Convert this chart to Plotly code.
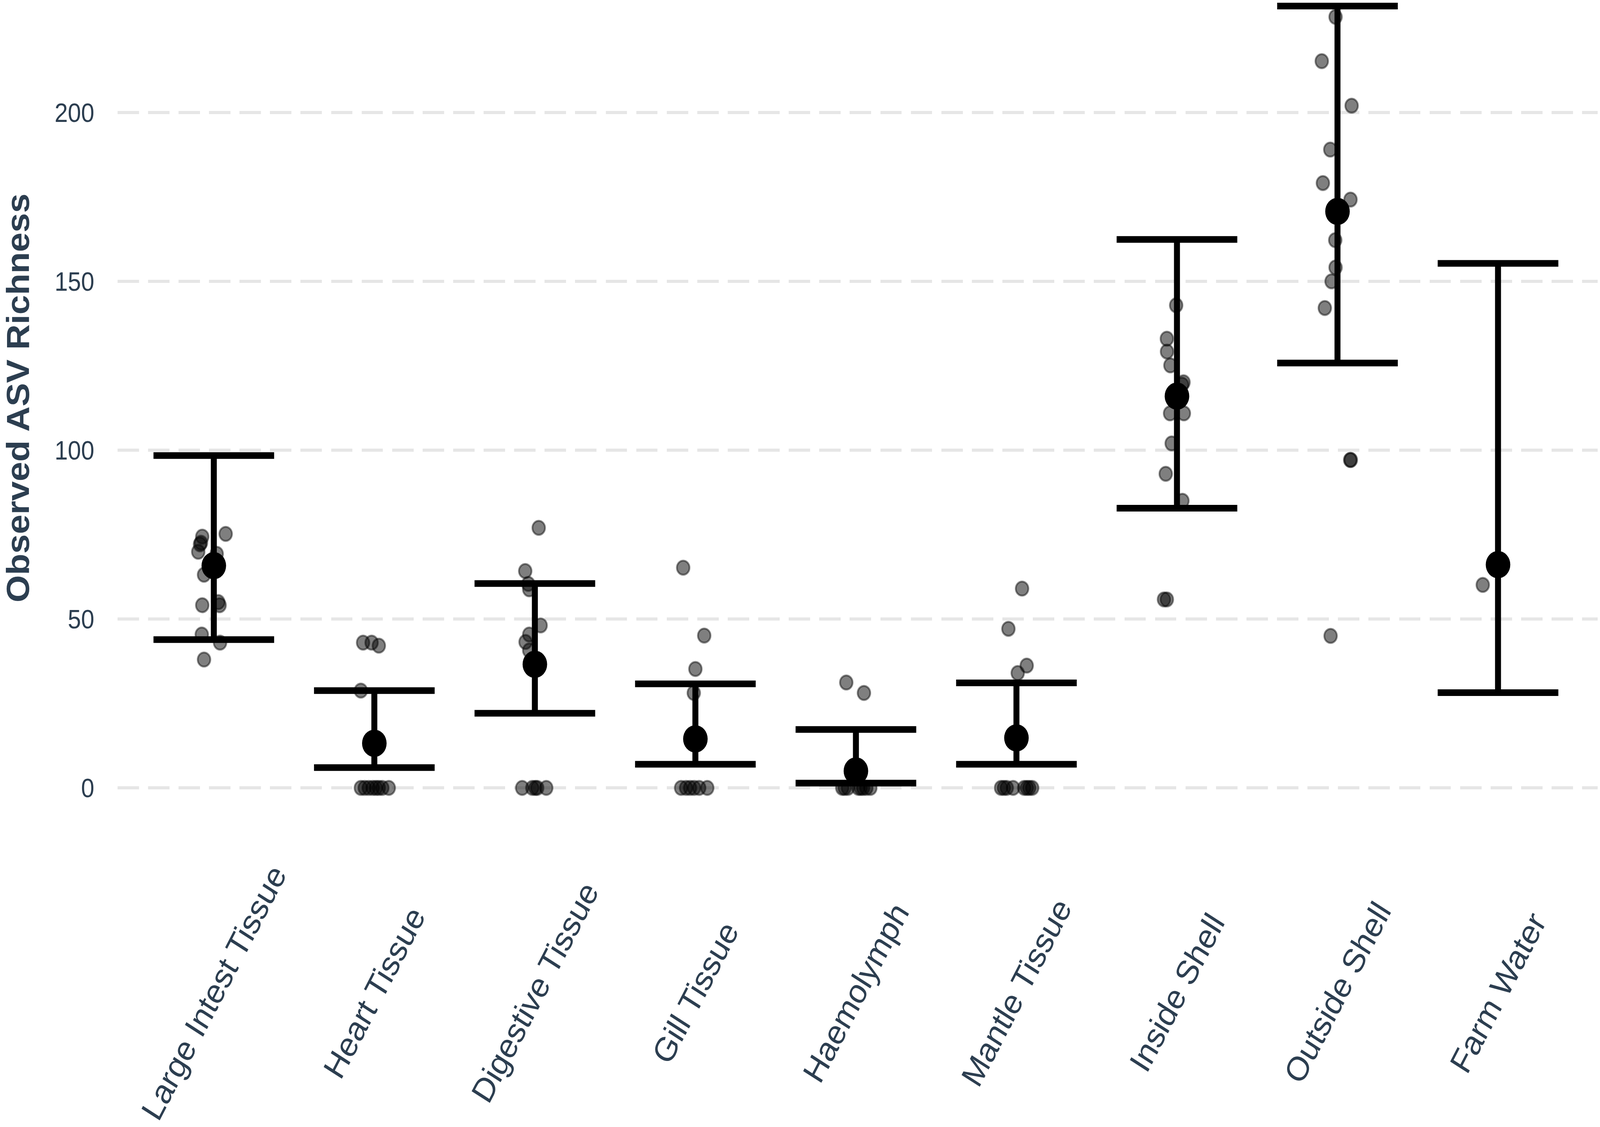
import plotly.graph_objects as go

# sample types, in plotting order
categories = ["Large Intest Tissue", "Heart Tissue", "Digestive Tissue", "Gill Tissue",
              "Haemolymph", "Mantle Tissue", "Inside Shell", "Outside Shell", "Farm Water"]

# summary per sample type (mean and interval ends)
means = [65.8, 13.2, 36.6, 14.5, 5.0, 14.8, 116.0, 170.7, 66.1]
upper = [98.4, 28.8, 60.5, 30.8, 17.3, 31.1, 162.4, 231.5, 155.3]
lower = [43.9, 6.0, 22.1, 7.0, 1.4, 7.0, 82.8, 125.8, 28.2]

# individual samples: group index, richness, jitter (category units)
pt_group = ([0] * 14 + [1] * 12 + [2] * 13 + [3] * 10 + [4] * 10 + [5] * 12
            + [6] * 13 + [7] * 13 + [8] * 1)
pt_value = [74.4, 72.1, 72.6, 69.9, 75.2, 69.3, 63.1, 54.1, 55.0, 54.1, 45.4, 43.0, 38.0, 65.0,
            43.0, 43.0, 42.1, 28.8, 0, 0, 0, 0, 0, 0, 0, 0,
            77.0, 64.2, 60.4, 58.8, 48.1, 45.4, 43.2, 40.7, 0, 0, 0, 0, 0,
            65.2, 45.1, 35.2, 28.1, 0, 0, 0, 0, 0, 0,
            31.2, 28.1, 0, 0, 0, 0, 0, 0, 0, 0,
            59.0, 47.1, 36.2, 34.0, 0, 0, 0, 0, 0, 0, 0, 0,
            142.9, 133.0, 129.2, 125.1, 120.1, 119.4, 110.9, 110.9, 102.0, 93.0, 85.0, 55.8, 55.8,
            228.3, 215.2, 202.0, 189.0, 179.1, 174.2, 162.2, 154.1, 150.0, 142.1, 97.1, 97.1, 45.0,
            60.1]
pt_jitter = [-0.072, -0.086, -0.080, -0.097, 0.074, 0.018, -0.061, -0.072, 0.028, 0.036, -0.075, 0.039, -0.061, 0.02,
             -0.07, -0.017, 0.028, -0.084, -0.084, -0.06, -0.035, -0.01, 0.01, 0.028, 0.05, 0.09,
             0.024, -0.06, -0.041, -0.035, 0.036, -0.035, -0.058, -0.035, -0.079, -0.016, 0.003, 0.015, 0.071,
             -0.076, 0.055, 0.0, -0.01, -0.089, -0.058, -0.033, -0.008, 0.024, 0.074,
             -0.06, 0.05, -0.085, -0.07, -0.05, 0.015, 0.03, 0.045, 0.065, 0.09,
             0.035, -0.05, 0.064, 0.008, -0.096, -0.078, -0.06, -0.021, 0.048, 0.065, 0.08, 0.098,
             -0.005, -0.063, -0.062, -0.041, 0.041, 0.032, -0.043, 0.043, -0.033, -0.07, 0.034, -0.081, -0.063,
             -0.012, -0.098, 0.088, -0.045, -0.091, 0.081, -0.014, -0.012, -0.037, -0.079, 0.079, 0.083, -0.043,
             -0.095]

y_ticks = [0, 50, 100, 150, 200]

W, H = 4562, 2884
text_col = "#2C3E50"
font_fam = "Liberation Sans, Arial, sans-serif"

fig = go.Figure()

# jittered raw points
fig.add_scatter(x=[g + j for g, j in zip(pt_group, pt_jitter)], y=pt_value, mode="markers",
                marker=dict(size=36, color="rgba(0,0,0,0.5)",
                            line=dict(color="rgba(0,0,0,0.45)", width=5)),
                hoverinfo="y")

# mean with interval
fig.add_scatter(x=list(range(len(categories))), y=means, mode="markers",
                marker=dict(size=70, color="black"),
                error_y=dict(type="data", symmetric=False,
                             array=[u - m for u, m in zip(upper, means)],
                             arrayminus=[m - l for m, l in zip(means, lower)],
                             color="black", thickness=17, width=172))

# rotated category labels, centred under each tick
for i, c in enumerate(categories):
    fig.add_annotation(x=i, xref="x", y=-0.2095, yref="paper", text=c, showarrow=False,
                       textangle=-60, xanchor="center", yanchor="middle",
                       font=dict(size=87, color=text_col, family=font_fam))

fig.add_annotation(x=-0.0672, xref="paper", y=0.515, yref="paper", text="<b>Observed ASV Richness</b>",
                   showarrow=False, textangle=-90, xanchor="center", yanchor="middle",
                   font=dict(size=90, color=text_col, family=font_fam))

fig.update_layout(
    width=W, height=H,
    margin=dict(l=335, r=7, t=0, b=784),
    plot_bgcolor="white", paper_bgcolor="white",
    showlegend=False,
    font=dict(family=font_fam, color=text_col),
)
fig.update_xaxes(range=[-0.6, 8.62], showgrid=False, zeroline=False, showline=False,
                 tickvals=list(range(len(categories))), showticklabels=False, ticks="")
fig.update_yaxes(range=[-9.7, 233.3], tickvals=y_ticks, showgrid=True, gridcolor="#E6E6E6",
                 gridwidth=7.6, griddash="61px,26px", zeroline=False, showline=False, ticks="",
                 tickfont=dict(size=68, color=text_col, family=font_fam), ticklabelstandoff=65)

# stretch the fixed-size figure over whatever viewport the page gets
fit_js = """
var gd = document.getElementById('{plot_id}');
document.body.style.margin = '0';
document.body.style.overflow = 'hidden';
var kx = document.documentElement.clientWidth / %d;
var ky = document.documentElement.clientHeight / %d;
gd.style.transformOrigin = '0 0';
gd.style.transform = 'scale(' + kx + ',' + ky + ')';
""" % (W, H)

fig.write_html("out.html", post_script=fit_js, config={"displayModeBar": False})
